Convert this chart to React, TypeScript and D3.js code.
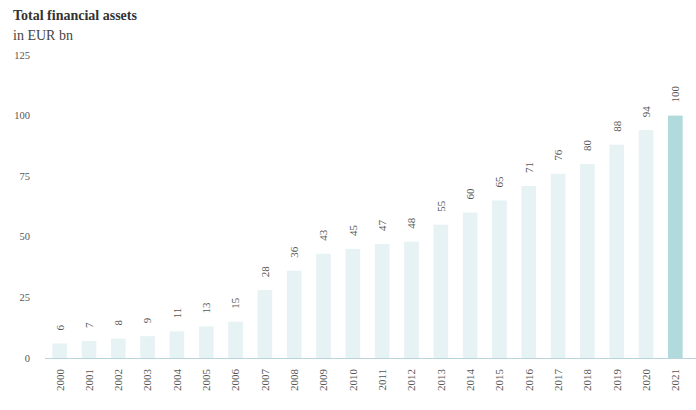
import React from 'react';
import * as d3 from 'd3';

const years = ['2000', '2001', '2002', '2003', '2004', '2005', '2006', '2007', '2008', '2009', '2010', '2011', '2012', '2013', '2014', '2015', '2016', '2017', '2018', '2019', '2020', '2021'];
const values = [6, 7, 8, 9, 11, 13, 15, 28, 36, 43, 45, 47, 48, 55, 60, 65, 71, 76, 80, 88, 94, 100];
const yTicks = [0, 25, 50, 75, 100, 125];

const width = 696;
const height = 410;
const font = '"Liberation Serif", "Times New Roman", serif';

export default function App() {
  const x = d3.scaleBand<string>()
    .domain(years)
    .range([45, 690])
    .paddingInner(0.5)
    .paddingOuter(0.25);

  const y = d3.scaleLinear().domain([0, 125]).range([358, 55]);

  return (
    <svg
      width={width}
      height={height}
      style={{ position: 'absolute', left: 0, top: 0, background: '#fff' }}
      fontFamily={font}
    >
      <text x={13} y={20} fontSize={14} fontWeight="bold" fill="#333">Total financial assets</text>
      <text x={13} y={40} fontSize={14} fill="#444">in EUR bn</text>

      {/* y axis labels */}
      {yTicks.map(t => (
        <text key={t} x={30} y={y(t)} dy="0.35em" textAnchor="end" fontSize={10.5} fill="#555">
          {t}
        </text>
      ))}

      {/* bars */}
      {values.map((v, i) => (
        <rect
          key={years[i]}
          x={x(years[i])}
          y={y(v)}
          width={x.bandwidth()}
          height={y(0) - y(v)}
          fill={i === values.length - 1 ? '#b1dadc' : '#e6f2f3'}
        />
      ))}

      {/* baseline */}
      <line x1={45} x2={696} y1={y(0) + 0.5} y2={y(0) + 0.5} stroke="#b9d3df" strokeWidth={1} />

      {/* value labels */}
      {values.map((v, i) => {
        const cx = (x(years[i]) ?? 0) + x.bandwidth() / 2;
        const ty = y(v) - 13;
        return (
          <text
            key={'v' + years[i]}
            transform={`translate(${cx},${ty}) rotate(-90)`}
            dy="0.35em"
            textAnchor="start"
            fontSize={11}
            fill="#555"
          >
            {v}
          </text>
        );
      })}

      {/* year labels */}
      {years.map(yr => {
        const cx = (x(yr) ?? 0) + x.bandwidth() / 2;
        return (
          <text
            key={'y' + yr}
            transform={`translate(${cx},${369}) rotate(-90)`}
            dy="0.35em"
            textAnchor="end"
            fontSize={11}
            fill="#555"
          >
            {yr}
          </text>
        );
      })}
    </svg>
  );
}
